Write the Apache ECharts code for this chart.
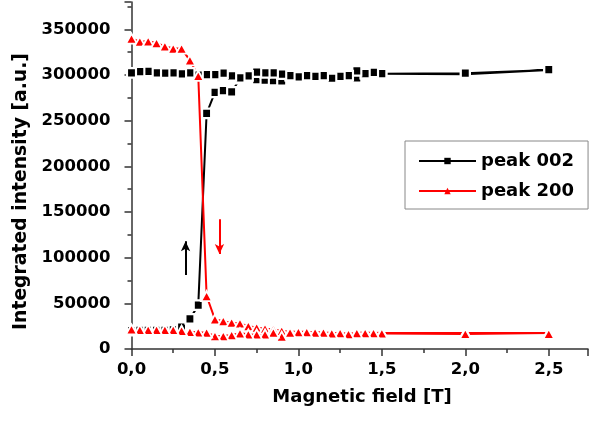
<!DOCTYPE html>
<html><head><meta charset="utf-8">
<script src="https://cdn.jsdelivr.net/npm/echarts@6/dist/echarts.min.js"></script>
<style>html,body{margin:0;padding:0;background:#fff}#c{width:591px;height:425px}</style>
</head><body><div id="c"></div>
<script>
// Magnetic field sweep: up (0 -> 2.5 T) and back down (2.5 -> 0 T)
const fieldUp = [0,0.05,0.1,0.15,0.2,0.25,0.3,0.35,0.4,0.45,0.5,0.55,0.6,0.65,0.7,0.75,0.8,0.85,0.9,0.95,1.0,1.05,1.1,1.15,1.2,1.25,1.3,1.35,1.4,1.45,1.5,2.0,2.5];
const fieldDown = [2.5,2.0,1.5,1.45,1.4,1.35,1.3,1.25,1.2,1.15,1.1,1.05,1.0,0.95,0.9,0.85,0.8,0.75,0.7,0.65,0.6,0.55,0.5,0.45,0.4,0.35,0.3,0.25,0.2,0.15,0.1,0.05,0];

const peak002Up = [20000,20500,20500,20500,20500,21000,24000,33000,48000,258000,281000,283000,281500,296000,298500,295000,294500,294000,293500,299500,298000,299500,298500,299500,296500,298500,299500,297000,301500,303000,301500,301000,305500];
const peak002Down = [306000,302000,301500,303000,301500,304500,299500,298500,296500,299500,298500,299500,298000,299500,301000,302500,302500,303300,299000,297000,299000,302200,300500,300500,300000,302400,301300,302400,302200,302400,304000,303800,302500];

const peak200Up = [340000,336500,337000,335000,331500,329000,329000,316000,299000,58000,32500,30500,28800,28000,25000,23500,22300,21700,19800,18900,18900,18900,18300,18300,17200,17800,16400,17800,17800,17800,17500,17500,17500];
const peak200Down = [16500,16500,17000,17500,17500,17500,16400,17500,17000,18000,18000,18500,18500,18000,13500,18000,16100,16100,16100,17200,15300,14200,14200,18000,18300,18900,20000,21000,21000,21000,21000,21000,21500];

const seriesNames = ['peak 002', 'peak 200'];
const xTitle = 'Magnetic field [T]';
const yTitle = 'Integrated intensity [a.u.]';
const xTickValues = [0, 0.5, 1.0, 1.5, 2.0, 2.5];
const yTickValues = [0, 50000, 100000, 150000, 200000, 250000, 300000, 350000];

// field-direction arrows (data coordinates)
const arrow002 = [[0.324, 81000], [0.324, 118000]];
const arrow200 = [[0.527, 142000], [0.527, 104000]];

const pair = (xs, ys) => xs.map((x, i) => [x, ys[i]]);
const FONT = '"DejaVu Sans", sans-serif';

const chart = echarts.init(document.getElementById('c'), null, {renderer: 'canvas'});
const axisCol = '#333';
chart.setOption({
  animation: false,
  backgroundColor: '#fff',
  grid: {left: 131.5, right: 0, top: 2, bottom: 76, containLabel: false},
  xAxis: {
    type: 'value', min: 0, max: 2.735, interval: 0.5,
    splitLine: {show: false},
    axisLine: {lineStyle: {color: axisCol, width: 1.5}},
    axisTick: {length: 7, lineStyle: {color: axisCol, width: 1.5}},
    minorTick: {show: true, splitNumber: 2, length: 4, lineStyle: {color: axisCol, width: 1.5}},
    axisLabel: {
      margin: 12, color: '#000', fontFamily: FONT, fontWeight: 'bold', fontSize: 16.5,
      formatter: v => xTickValues.some(t => Math.abs(t - v) < 1e-6) ? v.toFixed(1).replace('.', ',') : ''
    }
  },
  yAxis: {
    type: 'value', min: 0, max: 380000, interval: 50000,
    splitLine: {show: false},
    axisLine: {lineStyle: {color: axisCol, width: 1.5}},
    axisTick: {length: 7, lineStyle: {color: axisCol, width: 1.5}},
    minorTick: {show: true, splitNumber: 2, length: 4, lineStyle: {color: axisCol, width: 1.5}},
    axisLabel: {
      margin: 21, color: '#000', fontFamily: FONT, fontWeight: 'bold', fontSize: 16.5,
      formatter: v => yTickValues.includes(v) ? String(v) : ''
    }
  },
  legend: {
    orient: 'vertical', left: 405, top: 141,
    padding: [9, 14, 7, 13], itemGap: 8,
    itemWidth: 57, itemHeight: 8,
    borderColor: '#888', borderWidth: 1, backgroundColor: '#fff',
    textStyle: {fontFamily: FONT, fontWeight: 'bold', fontSize: 18, color: '#000', lineHeight: 22},
    itemStyle: {borderWidth: 0},
    data: seriesNames
  },
  graphic: [
    {type: 'text', x: 21, y: 191.5, rotation: Math.PI / 2,
     style: {text: yTitle, font: 'bold 18.8px "DejaVu Sans"', fill: '#000', align: 'center', verticalAlign: 'middle', textAlign: 'center', textVerticalAlign: 'middle'}},
    {type: 'text', x: 362, y: 397.5,
     style: {text: xTitle, font: 'bold 18px "DejaVu Sans"', fill: '#000', align: 'center', verticalAlign: 'middle', textAlign: 'center', textVerticalAlign: 'middle'}}
  ],
  series: [
    {
      name: seriesNames[0], type: 'line',
      data: pair(fieldUp, peak002Up).concat(pair(fieldDown, peak002Down)),
      color: '#000',
      symbol: 'rect', symbolSize: [9, 9.5], showAllSymbol: true,
      lineStyle: {color: '#000', width: 2},
      itemStyle: {color: '#000', borderColor: '#fff', borderWidth: 2.2},
      emphasis: {disabled: true},
      markLine: {
        silent: true, symbol: ['none', 'arrow'], symbolSize: [7, 10],
        label: {show: false}, lineStyle: {color: '#000', width: 2, type: 'solid'},
        emphasis: {disabled: true},
        data: [[{coord: arrow002[0]}, {coord: arrow002[1]}]]
      }
    },
    {
      name: seriesNames[1], type: 'line',
      data: pair(fieldUp, peak200Up).concat(pair(fieldDown, peak200Down)),
      color: '#ff0000',
      symbol: 'triangle', symbolSize: [11, 10], showAllSymbol: true,
      lineStyle: {color: '#ff0000', width: 2},
      itemStyle: {color: '#ff0000', borderColor: '#fff', borderWidth: 1.8},
      emphasis: {disabled: true},
      markLine: {
        silent: true, symbol: ['none', 'arrow'], symbolSize: [7, 10],
        label: {show: false}, lineStyle: {color: '#ff0000', width: 2, type: 'solid'},
        emphasis: {disabled: true},
        data: [[{coord: arrow200[0]}, {coord: arrow200[1]}]]
      }
    }
  ]
});
</script>
</body></html>
